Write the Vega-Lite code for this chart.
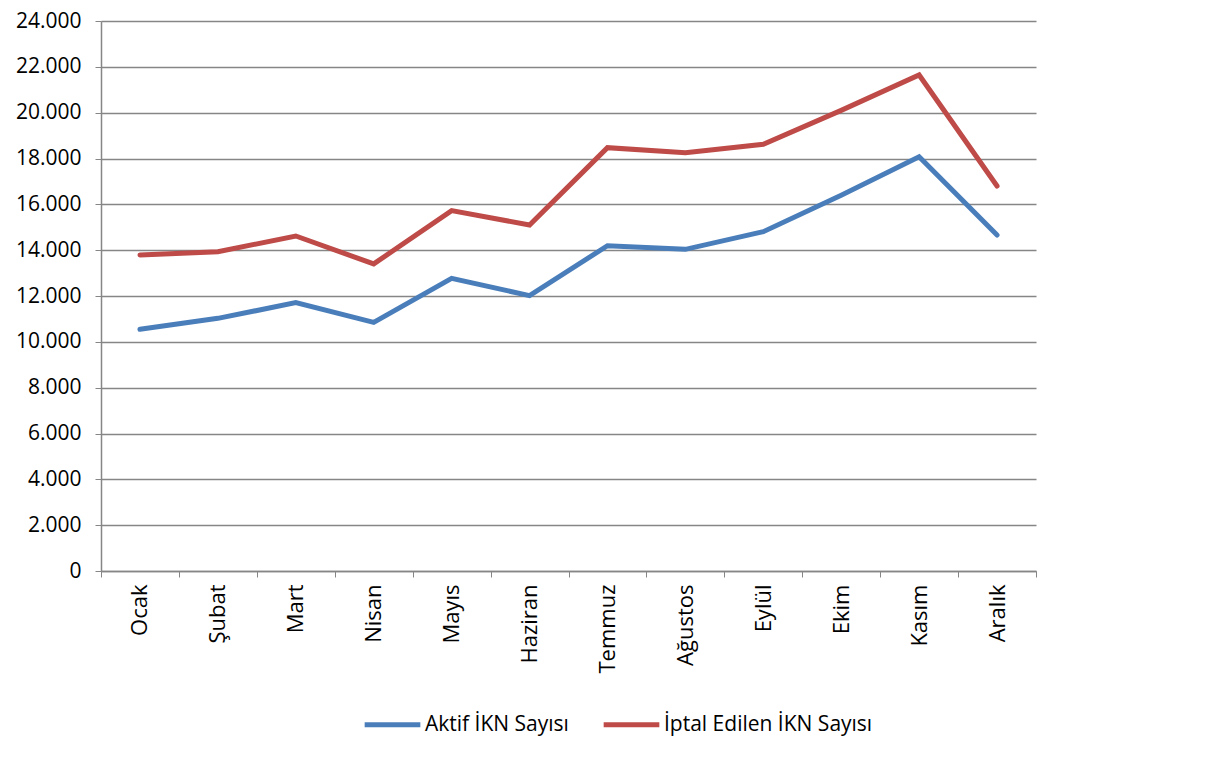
{
  "$schema": "https://vega.github.io/schema/vega-lite/v6.json",
  "autosize": {"type": "none"},
  "width": 935,
  "height": 550,
  "padding": {"left": 101, "top": 21, "right": 183, "bottom": 189},
  "background": "white",
  "config": {
    "locale": {"number": {"decimal": ",", "thousands": ".", "grouping": [3], "currency": ["", " TL"]}},
    "font": "Open Sans",
    "view": {"stroke": null}
  },
  "data": {
    "values": [
      {"ay": "Ocak", "seri": "Aktif İKN Sayısı", "deger": 10545},
      {"ay": "Şubat", "seri": "Aktif İKN Sayısı", "deger": 11025},
      {"ay": "Mart", "seri": "Aktif İKN Sayısı", "deger": 11709},
      {"ay": "Nisan", "seri": "Aktif İKN Sayısı", "deger": 10851},
      {"ay": "Mayıs", "seri": "Aktif İKN Sayısı", "deger": 12771},
      {"ay": "Haziran", "seri": "Aktif İKN Sayısı", "deger": 12015},
      {"ay": "Temmuz", "seri": "Aktif İKN Sayısı", "deger": 14196},
      {"ay": "Ağustos", "seri": "Aktif İKN Sayısı", "deger": 14036},
      {"ay": "Eylül", "seri": "Aktif İKN Sayısı", "deger": 14807},
      {"ay": "Ekim", "seri": "Aktif İKN Sayısı", "deger": 16400},
      {"ay": "Kasım", "seri": "Aktif İKN Sayısı", "deger": 18080},
      {"ay": "Aralık", "seri": "Aktif İKN Sayısı", "deger": 14662},
      {"ay": "Ocak", "seri": "İptal Edilen İKN Sayısı", "deger": 13789},
      {"ay": "Şubat", "seri": "İptal Edilen İKN Sayısı", "deger": 13930},
      {"ay": "Mart", "seri": "İptal Edilen İKN Sayısı", "deger": 14618},
      {"ay": "Nisan", "seri": "İptal Edilen İKN Sayısı", "deger": 13400},
      {"ay": "Mayıs", "seri": "İptal Edilen İKN Sayısı", "deger": 15724},
      {"ay": "Haziran", "seri": "İptal Edilen İKN Sayısı", "deger": 15098},
      {"ay": "Temmuz", "seri": "İptal Edilen İKN Sayısı", "deger": 18473},
      {"ay": "Ağustos", "seri": "İptal Edilen İKN Sayısı", "deger": 18255},
      {"ay": "Eylül", "seri": "İptal Edilen İKN Sayısı", "deger": 18618},
      {"ay": "Ekim", "seri": "İptal Edilen İKN Sayısı", "deger": 20100},
      {"ay": "Kasım", "seri": "İptal Edilen İKN Sayısı", "deger": 21644},
      {"ay": "Aralık", "seri": "İptal Edilen İKN Sayısı", "deger": 16800}
    ]
  },
  "mark": {"type": "line", "strokeWidth": 5, "strokeCap": "round", "strokeJoin": "miter"},
  "encoding": {
    "x": {
      "field": "ay",
      "type": "nominal",
      "sort": ["Ocak", "Şubat", "Mart", "Nisan", "Mayıs", "Haziran", "Temmuz", "Ağustos", "Eylül", "Ekim", "Kasım", "Aralık"],
      "bandPosition": 0.5,
      "scale": {"type": "band", "paddingInner": 0, "paddingOuter": 0},
      "axis": {
        "title": null,
        "labelAngle": -90,
        "labelAlign": "right",
        "labelBaseline": "middle",
        "labelFontSize": 22,
        "labelColor": "black",
        "labelPadding": 7,
        "tickBand": "extent",
        "tickSize": 6,
        "tickColor": "#868686",
        "domainColor": "#868686",
        "domainWidth": 1.5,
        "grid": false
      }
    },
    "y": {
      "field": "deger",
      "type": "quantitative",
      "scale": {"domain": [0, 24000], "nice": false, "zero": true},
      "axis": {
        "title": null,
        "values": [0, 2000, 4000, 6000, 8000, 10000, 12000, 14000, 16000, 18000, 20000, 22000, 24000],
        "format": ",.0f",
        "labelFontSize": 21,
        "labelColor": "black",
        "labelPadding": 14,
        "tickSize": 6,
        "tickColor": "#868686",
        "domainColor": "#868686",
        "domainWidth": 1.5,
        "gridColor": "#868686",
        "gridWidth": 1.5
      }
    },
    "color": {
      "field": "seri",
      "type": "nominal",
      "scale": {"domain": ["Aktif İKN Sayısı", "İptal Edilen İKN Sayısı"], "range": ["#4A7EBB", "#BE4B48"]},
      "legend": {
        "title": null,
        "orient": "none",
        "direction": "horizontal",
        "legendX": 261,
        "legendY": 673,
        "symbolType": "stroke",
        "symbolSize": 3100,
        "symbolStrokeWidth": 5,
        "labelFontSize": 21,
        "labelLimit": 400,
        "labelColor": "black",
        "labelOffset": 2,
        "columnPadding": 24
      }
    }
  }
}
